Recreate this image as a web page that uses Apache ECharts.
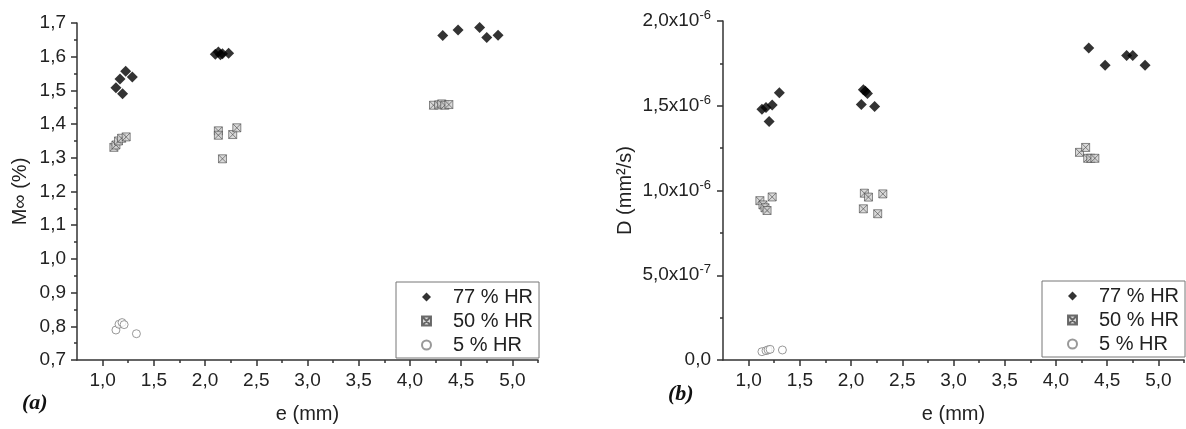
<!DOCTYPE html>
<html>
<head>
<meta charset="utf-8">
<script src="https://cdn.jsdelivr.net/npm/echarts@6/dist/echarts.min.js"></script>
<style>
html,body{margin:0;padding:0;background:#ffffff;}
#chart{width:1186px;height:429px;}
</style>
</head>
<body>
<div id="chart"></div>
<script>
// ---------- data ----------
const seriesNames = ['77 % HR', '50 % HR', '5 % HR'];

// axis ticks
const xMajorTicks = [1.0, 1.5, 2.0, 2.5, 3.0, 3.5, 4.0, 4.5, 5.0];
const xMinorTicks = [1.25, 1.75, 2.25, 2.75, 3.25, 3.75, 4.25, 4.75, 5.25];
const yMajorTicksA = [0.7, 0.8, 0.9, 1.0, 1.1, 1.2, 1.3, 1.4, 1.5, 1.6, 1.7];
const yMinorTicksA = [0.75, 0.85, 0.95, 1.05, 1.15, 1.25, 1.35, 1.45, 1.55, 1.65];
const yMajorTicksB = [0, 5e-7, 1.0e-6, 1.5e-6, 2.0e-6];
const yMinorTicksB = [2.5e-7, 7.5e-7, 1.25e-6, 1.75e-6];

// panel (a): M∞ (%) vs e (mm)
const eA77 = [1.13, 1.17, 1.225, 1.195, 1.29, 2.10, 2.13, 2.15, 2.17, 2.23, 4.32, 4.47, 4.68, 4.75, 4.86];
const mA77 = [1.508, 1.534, 1.557, 1.490, 1.540, 1.607, 1.614, 1.606, 1.609, 1.610, 1.663, 1.679, 1.687, 1.657, 1.664];
const eA50 = [1.11, 1.13, 1.155, 1.185, 1.23, 2.13, 2.13, 2.17, 2.27, 2.31, 4.23, 4.28, 4.31, 4.34, 4.38];
const mA50 = [1.331, 1.338, 1.350, 1.358, 1.362, 1.380, 1.367, 1.297, 1.369, 1.389, 1.456, 1.457, 1.460, 1.456, 1.458];
const eA5 = [1.13, 1.16, 1.19, 1.21, 1.33];
const mA5 = [0.789, 0.806, 0.811, 0.805, 0.778];

// panel (b): D (mm²/s) vs e (mm)
const eB77 = [1.13, 1.17, 1.23, 1.20, 1.30, 2.12, 2.14, 2.16, 2.10, 2.23, 4.32, 4.48, 4.69, 4.75, 4.87];
const dB77 = [1.479e-6, 1.490e-6, 1.505e-6, 1.407e-6, 1.577e-6, 1.595e-6, 1.585e-6, 1.573e-6, 1.508e-6, 1.495e-6, 1.841e-6, 1.739e-6, 1.797e-6, 1.797e-6, 1.739e-6];
const eB50 = [1.11, 1.14, 1.16, 1.18, 1.23, 2.13, 2.17, 2.31, 2.12, 2.26, 4.23, 4.29, 4.31, 4.34, 4.38];
const dB50 = [0.940e-6, 0.915e-6, 0.898e-6, 0.882e-6, 0.962e-6, 0.984e-6, 0.961e-6, 0.980e-6, 0.892e-6, 0.863e-6, 1.225e-6, 1.254e-6, 1.190e-6, 1.190e-6, 1.190e-6];
const eB5 = [1.13, 1.17, 1.19, 1.21, 1.33];
const dB5 = [0.049e-6, 0.055e-6, 0.060e-6, 0.063e-6, 0.059e-6];

// ---------- helpers ----------
const zip = (xs, ys) => xs.map((x, i) => [x, ys[i]]);
const FONT = '"Liberation Sans", Arial, sans-serif';
const TXT = '#222';
const AXIS = '#333';
const comma1 = v => v.toFixed(1).replace('.', ',');
function sciLabel(v) {
  if (Math.abs(v) < 1e-15) return '{m|0,0}';
  const e = Math.floor(Math.log10(v) + 1e-9);
  const m = (v / Math.pow(10, e)).toFixed(1).replace('.', ',');
  return '{m|' + m + 'x10}{s|' + e + '}';
}

const diamondPath = 'path://M5,0L10,5L5,10L0,5Z';
const squareX = 'path://M0,0L10,0L10,10L0,10Z M0,0L10,10 M10,0L0,10';
const styles = [
  { symbol: diamondPath, symbolSize: 11, symbolKeepAspect: true, itemStyle: { color: '#000', borderWidth: 0 } },
  { symbol: squareX, symbolSize: 8, symbolKeepAspect: true, itemStyle: { color: '#d0d0d0', borderColor: '#4a4a4a', borderWidth: 0.8 } },
  { symbol: 'circle', symbolSize: 8, itemStyle: { color: '#fff', borderColor: '#808080', borderWidth: 1 } }
];

function mainX(grid) {
  return {
    gridIndex: grid, type: 'value', min: 0.75, max: 5.25, position: 'bottom',
    axisLine: { show: true, lineStyle: { color: AXIS, width: 1.5 } },
    axisTick: { show: true, length: 6, inside: false, customValues: xMajorTicks, lineStyle: { color: AXIS, width: 1.5 } },
    axisLabel: { show: true, customValues: xMajorTicks, formatter: comma1, fontSize: 19, fontFamily: FONT, color: TXT, margin: 11 },
    splitLine: { show: false },
    name: 'e (mm)', nameLocation: 'middle', nameGap: 44,
    nameTextStyle: { fontSize: 20, fontFamily: FONT, color: TXT }
  };
}
function minorX(grid) {
  return {
    gridIndex: grid, type: 'value', min: 0.75, max: 5.25, position: 'bottom',
    axisLine: { show: false },
    axisTick: { show: true, length: 3, inside: false, customValues: xMinorTicks, lineStyle: { color: AXIS, width: 1.5 } },
    axisLabel: { show: false }, splitLine: { show: false }
  };
}
function legendAt(left, top) {
  return {
    data: seriesNames.map((n, i) => ({ name: n, icon: i === 0 ? diamondPath : (i === 1 ? squareX : 'circle') })),
    orient: 'vertical', left: left, top: top,
    padding: [5, 6, 3, 25], itemGap: 4, itemWidth: 9, itemHeight: 9,
    borderColor: '#777', borderWidth: 1, backgroundColor: '#fff',
    textStyle: { fontSize: 20, fontFamily: FONT, color: TXT, lineHeight: 20, padding: [0, 0, 0, 17] },
    selectedMode: false
  };
}

const option = {
  backgroundColor: '#ffffff',
  animation: false,
  grid: [
    { left: 77, top: 23, width: 461, height: 340 },
    { left: 723, top: 21, width: 461, height: 341 }
  ],
  xAxis: [mainX(0), minorX(0), mainX(1), minorX(1)],
  yAxis: [
    {
      gridIndex: 0, type: 'value', min: 0.7, max: 1.7, position: 'left',
      axisLine: { show: true, lineStyle: { color: AXIS, width: 1.5 } },
      axisTick: { show: true, length: 6, inside: false, customValues: yMajorTicksA, lineStyle: { color: AXIS, width: 1.5 } },
      axisLabel: { show: true, customValues: yMajorTicksA, formatter: comma1, fontSize: 19, fontFamily: FONT, color: TXT, margin: 11 },
      splitLine: { show: false },
      name: 'M\u221E (%)', nameLocation: 'middle', nameGap: 47,
      nameTextStyle: { fontSize: 20, fontFamily: FONT, color: TXT }
    },
    {
      gridIndex: 0, type: 'value', min: 0.7, max: 1.7, position: 'left',
      axisLine: { show: false },
      axisTick: { show: true, length: 3, inside: false, customValues: yMinorTicksA, lineStyle: { color: AXIS, width: 1.5 } },
      axisLabel: { show: false }, splitLine: { show: false }
    },
    {
      gridIndex: 1, type: 'value', min: 0, max: 2e-6, position: 'left',
      axisLine: { show: true, lineStyle: { color: AXIS, width: 1.5 } },
      axisTick: { show: true, length: 6, inside: false, customValues: yMajorTicksB, lineStyle: { color: AXIS, width: 1.5 } },
      axisLabel: {
        show: true, customValues: yMajorTicksB, formatter: sciLabel, margin: 12,
        rich: {
          m: { fontSize: 19, fontFamily: FONT, color: TXT, lineHeight: 24 },
          s: { fontSize: 13, fontFamily: FONT, color: TXT, lineHeight: 13, verticalAlign: 'top' }
        }
      },
      splitLine: { show: false },
      name: 'D (mm\u00B2/s)', nameLocation: 'middle', nameGap: 88,
      nameTextStyle: { fontSize: 20, fontFamily: FONT, color: TXT }
    },
    {
      gridIndex: 1, type: 'value', min: 0, max: 2e-6, position: 'left',
      axisLine: { show: false },
      axisTick: { show: true, length: 3, inside: false, customValues: yMinorTicksB, lineStyle: { color: AXIS, width: 1.5 } },
      axisLabel: { show: false }, splitLine: { show: false }
    }
  ],
  legend: [legendAt(396, 282), legendAt(1042, 281)],
  series: [
    Object.assign({ type: 'scatter', name: seriesNames[0], xAxisIndex: 0, yAxisIndex: 0, data: zip(eA77, mA77), z: 5 }, styles[0]),
    Object.assign({ type: 'scatter', name: seriesNames[1], xAxisIndex: 0, yAxisIndex: 0, data: zip(eA50, mA50), z: 4 }, styles[1]),
    Object.assign({ type: 'scatter', name: seriesNames[2], xAxisIndex: 0, yAxisIndex: 0, data: zip(eA5, mA5), z: 3 }, styles[2]),
    Object.assign({ type: 'scatter', name: seriesNames[0], xAxisIndex: 2, yAxisIndex: 2, data: zip(eB77, dB77), z: 5 }, styles[0]),
    Object.assign({ type: 'scatter', name: seriesNames[1], xAxisIndex: 2, yAxisIndex: 2, data: zip(eB50, dB50), z: 4 }, styles[1]),
    Object.assign({ type: 'scatter', name: seriesNames[2], xAxisIndex: 2, yAxisIndex: 2, data: zip(eB5, dB5), z: 3 }, styles[2])
  ],
  graphic: [
    { type: 'text', left: 22, top: 392, style: { text: '(a)', font: 'italic bold 22px "Liberation Serif", "Times New Roman", serif', fill: '#111' } },
    { type: 'text', left: 668, top: 383, style: { text: '(b)', font: 'italic bold 22px "Liberation Serif", "Times New Roman", serif', fill: '#111' } }
  ]
};

const chart = echarts.init(document.getElementById('chart'), null, { renderer: 'canvas' });
chart.setOption(option);
</script>
</body>
</html>
